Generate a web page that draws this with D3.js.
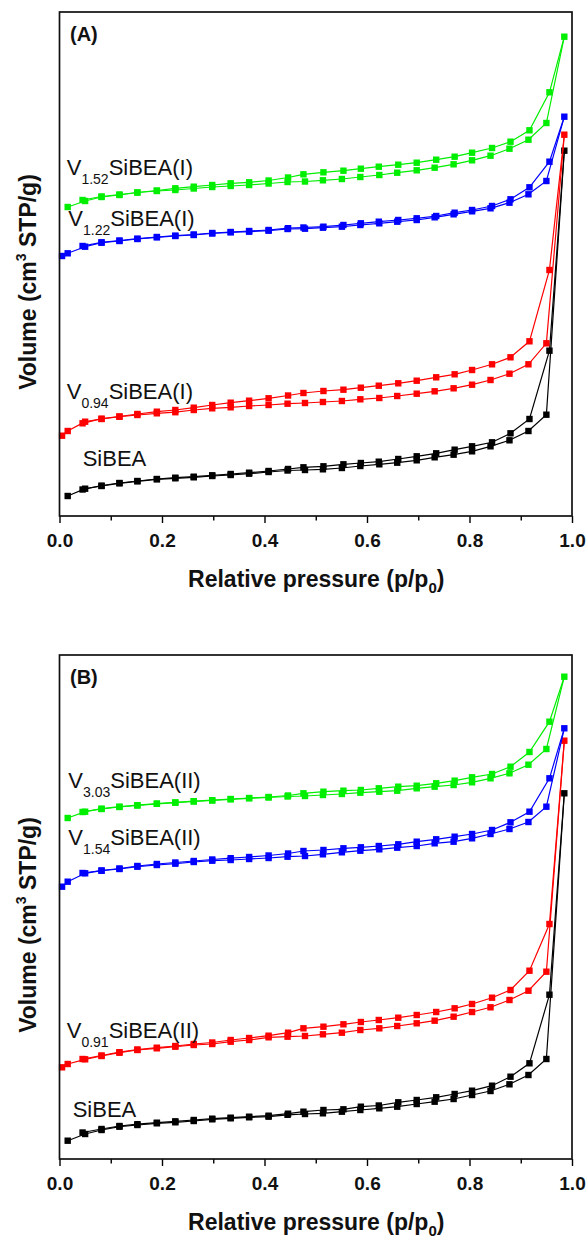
<!DOCTYPE html>
<html>
<head>
<meta charset="utf-8">
<script src="https://cdn.jsdelivr.net/npm/d3@7"></script>
<style>
body { margin: 0; background: #fff; }
svg text { font-family: Arial, "Liberation Sans", sans-serif; fill: #111; }
</style>
</head>
<body>
<svg id="chart" width="588" height="1240"></svg>
<script>
// relative pressure of the measured points (adsorption up, desorption down)
var pAds = [0.005, 0.016, 0.05, 0.082, 0.117, 0.152, 0.19, 0.226, 0.262, 0.298, 0.334, 0.37, 0.408, 0.445, 0.479,
            0.514, 0.551, 0.587, 0.624, 0.659, 0.697, 0.732, 0.769, 0.805, 0.841, 0.878, 0.915, 0.95, 0.985];
var pDes = [0.956, 0.917, 0.88, 0.844, 0.805, 0.771, 0.735, 0.697, 0.661, 0.623, 0.588, 0.554, 0.515, 0.476,
            0.446, 0.408, 0.37, 0.334, 0.298, 0.262, 0.226, 0.19, 0.152, 0.117, 0.082, 0.045];

// volumes, arbitrary units (curves are offset, y axis has no scale)
// panel A
var aSiBEAads = [null, 20, 27.3, 30, 32.7, 34.7, 36.7, 37.7, 38.7, 40, 41, 42.3, 44, 45.5, 46, 46.7, 48, 50, 51.7, 53.3, 55.7, 58.7, 61.3, 64.7, 69.7, 75.7, 85, 101.3, 365.3];
var aSiBEAdes = [165.3, 97, 82.7, 73.7, 69.7, 66.3, 62.7, 59.7, 57, 54.3, 53, 51.7, 49.7, 48.7, 47, 45, 43.3, 42, 40.7, 39.3, 38.3, 37, 35, 33, 30.3, 26.5];
var aV094ads = [80.3, 85, 94.3, 97, 99.3, 101, 102.7, 103.8, 106, 107.7, 108.7, 110, 111, 112.3, 113, 114, 115, 116.7, 118, 120, 122.3, 124.7, 127.7, 131.3, 136, 142.3, 151.7, 172.7, 381.3];
var aV094des = [246, 174.7, 158.7, 151.7, 146, 141.7, 138.7, 135.3, 132.7, 130.3, 128.3, 126.3, 125, 123, 120.5, 117.7, 115.3, 113.3, 111, 108.3, 106, 104.3, 102, 99.5, 97.3, 92.7];
var aV122ads = [260, 262.7, 269.3, 273.3, 275, 277, 278.7, 280, 281, 282.5, 283.7, 284.3, 285.3, 287, 287.3, 288.3, 289.3, 291, 292.7, 294.3, 296, 298.7, 301.7, 304.7, 307.7, 313.3, 321.7, 335, 399.3];
var aV122des = [354.3, 328.7, 316.7, 310, 306, 303.3, 300, 297.7, 296, 294.3, 292.7, 291, 289.3, 288.5, 287.8, 286, 285, 284, 283, 281.5, 280.3, 279, 277.3, 275.5, 273.7, 270];
var aV152ads = [null, 309, 315, 319, 321, 323.5, 325, 326, 327.5, 329, 330, 331, 332.5, 334, 334.5, 335.7, 337, 339, 341, 343.3, 345.7, 348.3, 351.7, 355.7, 360.3, 367.3, 376.3, 393, 479.3];
var aV152des = [423.7, 385.7, 374.3, 368, 363.3, 359.3, 356.3, 353.3, 351.3, 349.3, 347.3, 345.3, 343.7, 341.7, 338.5, 335.5, 333.7, 332.7, 331, 329.3, 327.7, 325.5, 323.5, 321.5, 319.5, 316];

// panel B
var bSiBEAads = [null, 18.3, 25, 29, 32.3, 34, 35.7, 36.7, 38, 39.7, 40.7, 41.7, 42.3, 44.2, 45, 45.7, 47.3, 49, 50.7, 52.3, 55, 57.3, 60, 64, 68, 74.7, 84, 100, 365.7];
var bSiBEAdes = [164.3, 95.7, 82.3, 73.3, 68.3, 65, 61.7, 59, 56.7, 53.5, 52.3, 49.7, 49, 47.3, 45.3, 43.3, 42.3, 41.3, 40.3, 39, 37.7, 36.3, 34.8, 33, 30, 26.5];
var bV091ads = [91.7, 95, 99.7, 103, 106.3, 109, 110.7, 112.3, 114, 115, 117.3, 119, 121.7, 122.3, 123, 124.7, 126.3, 129, 130.7, 133, 135.7, 138.3, 142.3, 147, 151.7, 159, 168.3, 187.3, 418.3];
var bV091des = [235, 188.3, 169, 161.3, 155, 150.7, 147, 144, 141.3, 139, 137, 134.7, 132.3, 130.7, 126.3, 123.3, 121, 119, 116.5, 115, 113, 111.3, 109.5, 106.8, 103.5, 100];
var bV154ads = [272.3, 277.3, 285.7, 288.3, 290, 292.3, 294, 295.3, 297, 298.3, 299, 300, 301, 302.3, 303, 304.7, 306.7, 308.3, 309.7, 311.3, 313, 315.7, 317.3, 320.7, 325, 330, 337, 352.3, 430.7];
var bV154des = [380.7, 347.3, 336.7, 329, 325, 322.3, 319.7, 317.3, 314.7, 313, 311.7, 310.7, 309, 308, 305.5, 303.5, 302, 300.8, 299.5, 298, 296.5, 295, 293, 290.5, 288.5, 286];
var bV303ads = [null, 341, 347.3, 350, 352, 353.5, 355.2, 356.3, 357.5, 358.5, 359.7, 360.7, 361.5, 362.5, 363, 364, 365, 366.3, 367.3, 368.3, 370.7, 372.3, 374, 376.7, 380.7, 385.7, 394.3, 410, 482.3];
var bV303des = [437.3, 407, 392.3, 385, 381.7, 378.3, 375.7, 373.3, 372.3, 370.7, 369, 368.3, 367.3, 365.7, 363.5, 362, 361, 360, 358.8, 357.8, 356.6, 355.4, 353.8, 352.3, 350.3, 347];

// tick labels and series names
var xMajor = [0, 0.2, 0.4, 0.6, 0.8, 1.0];
var xMinor = [0.1, 0.3, 0.5, 0.7, 0.9];
var namesA = [["", "", "SiBEA"], ["V", "0.94", "SiBEA(I)"], ["V", "1.22", "SiBEA(I)"], ["V", "1.52", "SiBEA(I)"]];
var namesB = [["", "", "SiBEA"], ["V", "0.91", "SiBEA(II)"], ["V", "1.54", "SiBEA(II)"], ["V", "3.03", "SiBEA(II)"]];
var colors = ["#000000", "#ff0000", "#0000ff", "#00ee00"];

var svg = d3.select("#chart");

var plot = { left: 59.5, right: 572, top: 12, bottom: 516 };

var x = d3.scaleLinear().domain([0, 1]).range([plot.left, plot.right]);
var y = d3.scaleLinear().domain([0, 504]).range([plot.bottom, plot.top]);

var line = d3.line()
    .x(function(d) { return x(d.p); })
    .y(function(d) { return y(d.v); });

function drawSeries(g, ads, des, color) {
    var adsPts = pAds.map(function(p, i) { return { p: p, v: ads[i] }; })
        .filter(function(d) { return d.v != null; });
    var desPts = pDes.map(function(p, i) { return { p: p, v: des[i] }; });
    var topPt = adsPts[adsPts.length - 1];

    g.append("path").attr("d", line(adsPts))
        .attr("fill", "none").attr("stroke", color).attr("stroke-width", 1.2);
    g.append("path").attr("d", line([topPt].concat(desPts)))
        .attr("fill", "none").attr("stroke", color).attr("stroke-width", 1.2);

    var s = 6.4;
    g.selectAll(null)
        .data(adsPts.concat(desPts))
        .enter().append("rect")
        .attr("x", function(d) { return x(d.p) - s / 2; })
        .attr("y", function(d) { return y(d.v) - s / 2; })
        .attr("width", s).attr("height", s)
        .attr("fill", color);
}

function drawPanel(offsetY, tag, series, names, labelPos) {
    var g = svg.append("g").attr("transform", "translate(0," + offsetY + ")");

    // minor ticks
    g.append("g")
        .attr("transform", "translate(0," + plot.bottom + ")")
        .call(d3.axisBottom(x).tickValues(xMinor).tickSize(4.5).tickSizeOuter(0).tickFormat(""))
        .call(function(a) { a.select(".domain").remove(); a.selectAll("line").attr("stroke-width", 1.4); });

    // major ticks
    g.append("g")
        .attr("transform", "translate(0," + plot.bottom + ")")
        .call(d3.axisBottom(x).tickValues(xMajor).tickSize(7).tickSizeOuter(0).tickPadding(11)
            .tickFormat(d3.format(".1f")))
        .call(function(a) {
            a.select(".domain").remove();
            a.selectAll("line").attr("stroke-width", 1.4);
            a.selectAll("text").attr("font-size", 19).attr("font-weight", "bold")
                .attr("fill", "#111").style("font-family", "Arial, 'Liberation Sans', sans-serif");
        });

    series.forEach(function(s, i) {
        drawSeries(g, s[0], s[1], colors[i]);
    });

    // frame
    g.append("rect")
        .attr("x", plot.left).attr("y", plot.top)
        .attr("width", plot.right - plot.left).attr("height", plot.bottom - plot.top)
        .attr("fill", "none").attr("stroke", "#111").attr("stroke-width", 1.7);

    g.append("text").attr("x", 70).attr("y", 41)
        .attr("font-size", 20).attr("font-weight", "bold").text(tag);

    // series names
    names.forEach(function(n, i) {
        var t = g.append("text")
            .attr("x", labelPos[i][0]).attr("y", labelPos[i][1])
            .attr("font-size", 22);
        if (n[0]) {
            t.append("tspan").text(n[0]);
            t.append("tspan").attr("font-size", 14).attr("dy", 9).text(n[1]);
            t.append("tspan").attr("dy", -9).text(n[2]);
        } else {
            t.text(n[2]);
        }
    });

    // axis titles
    var xt = g.append("text")
        .attr("x", (plot.left + plot.right) / 2 + 0.5).attr("y", 587)
        .attr("text-anchor", "middle").attr("font-size", 23).attr("font-weight", "bold");
    xt.append("tspan").text("Relative pressure (p/p");
    xt.append("tspan").attr("font-size", 15).attr("dy", 6).text("0");
    xt.append("tspan").attr("dy", -6).text(")");

    var yt = g.append("text")
        .attr("transform", "translate(36," + 282 + ") rotate(-90)")
        .attr("text-anchor", "middle").attr("font-size", 23).attr("font-weight", "bold");
    yt.append("tspan").text("Volume (cm");
    yt.append("tspan").attr("font-size", 14).attr("dy", -10).text("3");
    yt.append("tspan").attr("dy", 10).text(" STP/g)");
}

drawPanel(0, "(A)",
    [[aSiBEAads, aSiBEAdes], [aV094ads, aV094des], [aV122ads, aV122des], [aV152ads, aV152des]],
    namesA, [[82.7, 466], [66.7, 399.3], [68.3, 226], [66.7, 175]]);

drawPanel(643, "(B)",
    [[bSiBEAads, bSiBEAdes], [bV091ads, bV091des], [bV154ads, bV154des], [bV303ads, bV303des]],
    namesB, [[72.7, 473.7], [66.7, 395.3], [68.3, 202], [68.3, 145.3]]);
</script>
</body>
</html>
